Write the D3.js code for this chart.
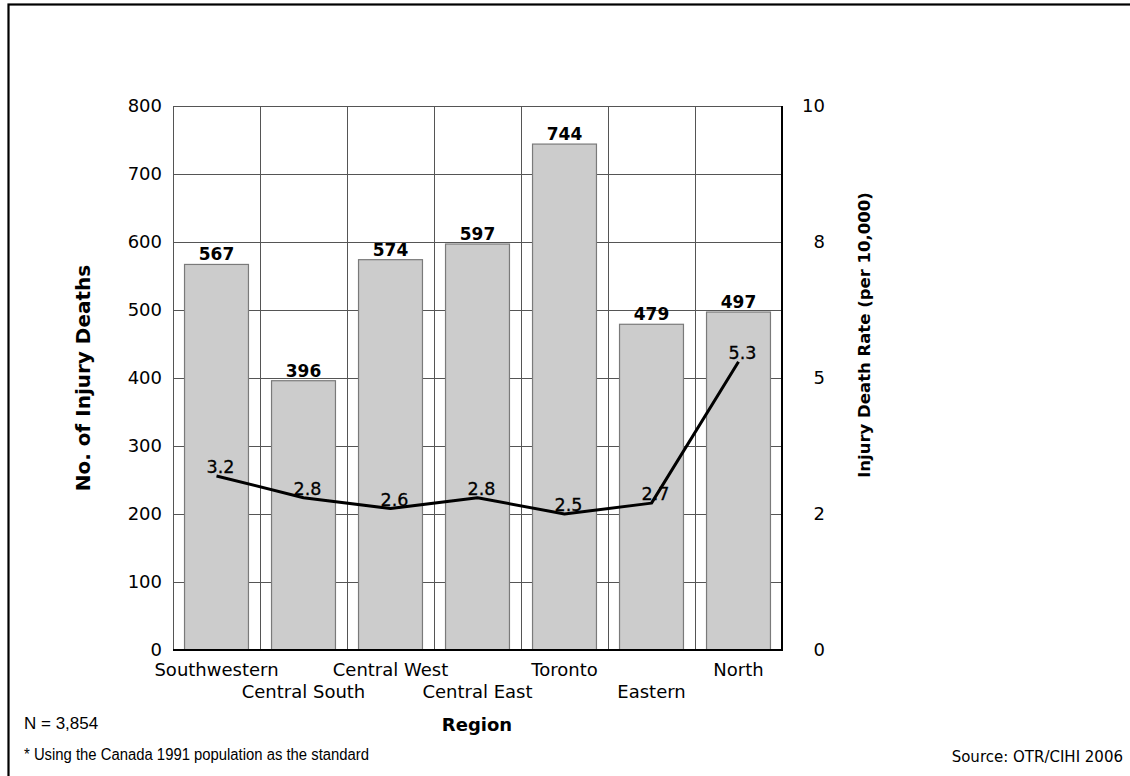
<!DOCTYPE html>
<html>
<head>
<meta charset="utf-8">
<script src="https://cdn.jsdelivr.net/npm/d3@7"></script>
<style>
  html, body { margin: 0; padding: 0; background: #fff; }
  svg { display: block; }
</style>
</head>
<body>
<svg id="chart" width="1130" height="776"></svg>
<script>
// Injury deaths by region (bars, left axis) and standardized rate (line, right axis)
const regions = ["Southwestern", "Central South", "Central West", "Central East", "Toronto", "Eastern", "North"];
const deaths = [567, 396, 574, 597, 744, 479, 497];
const rates = [3.2, 2.8, 2.6, 2.8, 2.5, 2.7, 5.3];
const leftTicks = [0, 100, 200, 300, 400, 500, 600, 700, 800];
const rightTickValues = [0, 2.5, 5, 7.5, 10];
const rightTickLabels = ["0", "2", "5", "8", "10"];

const SANS = "'DejaVu Sans', Verdana, sans-serif";
const ARIAL = "'Liberation Sans', Arial, sans-serif";

const svg = d3.select("#chart").style("font-family", SANS);
const W = 1130, H = 776;
const plot = { left: 173, right: 782, top: 106, bottom: 650 };

// outer frame (runs off the right and bottom edges)
svg.append("rect")
  .attr("x", 8.5).attr("y", 4.5)
  .attr("width", W + 20).attr("height", H + 20)
  .attr("fill", "none").attr("stroke", "#000").attr("stroke-width", 2.2);

const x = d3.scaleBand()
  .domain(regions)
  .range([plot.left, plot.right])
  .paddingInner(0.265)
  .paddingOuter(0.1325);

const yLeft = d3.scaleLinear().domain([0, 800]).range([plot.bottom, plot.top]);
const yRight = d3.scaleLinear().domain([0, 10]).range([plot.bottom, plot.top]);

const step = x.step();
const boundary = d => x(d) - step * x.paddingInner() / 2;

// grid
const grid = svg.append("g").attr("stroke", "#555").attr("stroke-width", 1).attr("shape-rendering", "crispEdges");
grid.selectAll("line.h").data(leftTicks.slice(1)).join("line")
  .attr("x1", plot.left).attr("x2", plot.right)
  .attr("y1", d => Math.round(yLeft(d)) + 0.5).attr("y2", d => Math.round(yLeft(d)) + 0.5);
grid.selectAll("line.v").data(regions.slice(1)).join("line")
  .attr("x1", d => Math.round(boundary(d)) + 0.5).attr("x2", d => Math.round(boundary(d)) + 0.5)
  .attr("y1", plot.top).attr("y2", plot.bottom);
grid.append("line")
  .attr("x1", plot.left + 0.5).attr("x2", plot.left + 0.5)
  .attr("y1", plot.top).attr("y2", plot.bottom);

// bars
svg.append("g").selectAll("rect").data(regions).join("rect")
  .attr("x", d => x(d))
  .attr("width", x.bandwidth())
  .attr("y", (d, i) => yLeft(deaths[i]))
  .attr("height", (d, i) => yLeft(0) - yLeft(deaths[i]))
  .attr("fill", "#cccccc")
  .attr("stroke", "#7a7a7a")
  .attr("stroke-width", 1.2);

// bar value labels
svg.append("g").selectAll("text").data(regions).join("text")
  .attr("x", d => x(d) + x.bandwidth() / 2)
  .attr("y", (d, i) => yLeft(deaths[i]) - 4)
  .attr("text-anchor", "middle")
  .attr("font-size", 17).attr("font-weight", "bold")
  .text((d, i) => deaths[i]);

// right and bottom frame lines
svg.append("line")
  .attr("x1", plot.right).attr("x2", plot.right)
  .attr("y1", plot.top).attr("y2", plot.bottom + 1)
  .attr("stroke", "#000").attr("stroke-width", 2);
svg.append("line")
  .attr("x1", plot.left).attr("x2", plot.right + 1)
  .attr("y1", plot.bottom).attr("y2", plot.bottom)
  .attr("stroke", "#000").attr("stroke-width", 2);

// rate line
const line = d3.line()
  .x((d, i) => x(regions[i]) + x.bandwidth() / 2)
  .y(d => yRight(d));
svg.append("path")
  .datum(rates)
  .attr("d", line)
  .attr("fill", "none")
  .attr("stroke", "#000")
  .attr("stroke-width", 3)
  .attr("stroke-linejoin", "round");

svg.append("g").selectAll("text").data(rates).join("text")
  .attr("x", (d, i) => x(regions[i]) + x.bandwidth() / 2 + 4)
  .attr("y", d => yRight(d) - 3)
  .attr("text-anchor", "middle")
  .attr("font-size", 17.5)
  .attr("stroke", "#000").attr("stroke-width", 0.3)
  .text(d => d.toFixed(1));

// left axis
const leftAxis = svg.append("g")
  .attr("transform", `translate(${plot.left},0)`)
  .call(d3.axisLeft(yLeft).tickValues(leftTicks).tickSize(0).tickPadding(11));
leftAxis.select(".domain").remove();
leftAxis.selectAll("text").style("font-size", "18px").style("font-family", SANS);

// right axis
const rightAxis = svg.append("g")
  .attr("transform", `translate(${plot.right},0)`)
  .call(d3.axisRight(yRight).tickValues(rightTickValues).tickSize(0)
    .tickFormat((d, i) => rightTickLabels[i]));
rightAxis.select(".domain").remove();
rightAxis.selectAll("text")
  .attr("x", 43).attr("text-anchor", "end")
  .style("font-size", "18px").style("font-family", SANS);

// category labels, alternating rows
svg.append("g").selectAll("text").data(regions).join("text")
  .attr("x", d => x(d) + x.bandwidth() / 2)
  .attr("y", (d, i) => i % 2 === 0 ? 676 : 698)
  .attr("text-anchor", "middle")
  .attr("font-size", 18)
  .text(d => d);

// axis titles
svg.append("text")
  .attr("transform", "translate(90,378) rotate(-90)")
  .attr("text-anchor", "middle")
  .attr("font-size", 20).attr("font-weight", "bold")
  .text("No. of Injury Deaths");

svg.append("text")
  .attr("transform", "translate(870,335) rotate(-90)")
  .attr("text-anchor", "middle")
  .attr("font-size", 16.5).attr("font-weight", "bold")
  .text("Injury Death Rate (per 10,000)");

svg.append("text")
  .attr("x", 477).attr("y", 731)
  .attr("text-anchor", "middle")
  .attr("font-size", 18).attr("font-weight", "bold")
  .text("Region");

// notes
svg.append("text")
  .attr("x", 24).attr("y", 729)
  .style("font-family", ARIAL)
  .attr("font-size", 17)
  .text("N = 3,854");

svg.append("text")
  .attr("x", 24).attr("y", 760)
  .style("font-family", ARIAL)
  .attr("font-size", 16)
  .attr("textLength", 345)
  .attr("lengthAdjust", "spacingAndGlyphs")
  .text("* Using the Canada 1991 population as the standard");

svg.append("text")
  .attr("x", 1123).attr("y", 762)
  .attr("text-anchor", "end")
  .attr("font-size", 15)
  .text("Source: OTR/CIHI 2006");
</script>
</body>
</html>
